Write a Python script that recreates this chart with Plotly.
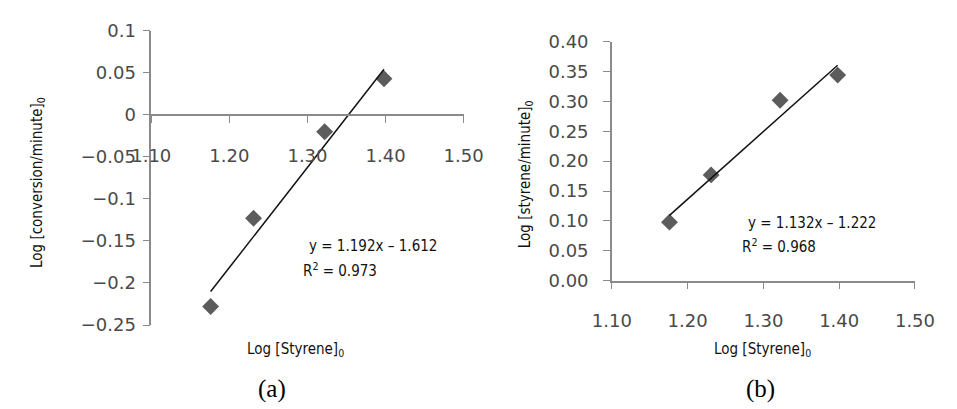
import plotly.graph_objects as go

# Figure size in pixels
W, H = 957, 409

# Shared x values: Log [Styrene]0
log_styrene = [1.176, 1.231, 1.322, 1.398]

# Panel (a): Log [conversion/minute]0
log_conversion = [-0.228, -0.123, -0.020, 0.043]
slope_a, intercept_a, r2_a = 1.192, -1.612, 0.973

# Panel (b): Log [styrene/minute]0
log_styrene_rate = [0.098, 0.177, 0.302, 0.344]
slope_b, intercept_b, r2_b = 1.132, -1.222, 0.968

x_ticks = [1.10, 1.20, 1.30, 1.40, 1.50]
y_ticks_a = [0.1, 0.05, 0, -0.05, -0.1, -0.15, -0.2, -0.25]
y_ticks_b = [0.40, 0.35, 0.30, 0.25, 0.20, 0.15, 0.10, 0.05, 0.00]

AXIS_COLOR = "#8a8a8a"
TICK_FONT = dict(family="DejaVu Sans", size=18, color="#4a4a4a")
NARROW = "DejaVu Sans Condensed, DejaVu Sans"
NARROW_SIZE = 15
MARKER_COLOR = "#5c5c5c"


def px_x(p):
    return p / W


def px_y(p):
    return 1 - p / H


def fit_line(xs, m, b):
    x0, x1 = min(xs), max(xs)
    return [x0, x1], [m * x0 + b, m * x1 + b]


fig = go.Figure()

# ---- panel (a)
fig.add_trace(go.Scatter(
    x=log_styrene, y=log_conversion, mode="markers",
    marker=dict(symbol="diamond", size=13, color=MARKER_COLOR),
    xaxis="x", yaxis="y", showlegend=False))
lx, ly = fit_line(log_styrene, slope_a, intercept_a)
fig.add_trace(go.Scatter(
    x=lx, y=ly, mode="lines", line=dict(color="#111111", width=1.5),
    xaxis="x", yaxis="y", showlegend=False))

# ---- panel (b)
fig.add_trace(go.Scatter(
    x=log_styrene, y=log_styrene_rate, mode="markers",
    marker=dict(symbol="diamond", size=13, color=MARKER_COLOR),
    xaxis="x2", yaxis="y2", showlegend=False))
lx, ly = fit_line(log_styrene, slope_b, intercept_b)
fig.add_trace(go.Scatter(
    x=lx, y=ly, mode="lines", line=dict(color="#111111", width=1.5),
    xaxis="x2", yaxis="y2", showlegend=False))

# Plot-area pixel boxes
a_left, a_right, a_top, a_bottom = 137, 463, 21, 331
b_left, b_right, b_top, b_bottom = 617.7, 934, 32.3, 284.3

ya_range = [-0.25, 0.1]
# paper position of y = 0 in panel (a), where its x axis crosses
zero_px = a_top + (ya_range[1] - 0) / (ya_range[1] - ya_range[0]) * (a_bottom - a_top)

common_axis = dict(
    showline=True, linecolor=AXIS_COLOR, linewidth=1.5,
    ticks="outside", ticklen=7, tickwidth=1.2, tickcolor=AXIS_COLOR,
    showgrid=False, zeroline=False, tickfont=TICK_FONT,
)

fig.update_layout(
    width=W, height=H,
    margin=dict(l=0, r=0, t=0, b=0),
    paper_bgcolor="white", plot_bgcolor="white",
    xaxis=dict(common_axis, domain=[px_x(a_left), px_x(a_right)],
               range=[1.10, 1.50], tickvals=x_ticks, tickformat=".2f",
               anchor="free", position=px_y(zero_px), ticklabelstandoff=18),
    yaxis=dict(common_axis, domain=[px_y(a_bottom), px_y(a_top)],
               range=ya_range, tickvals=y_ticks_a, anchor="x",
               ticklabelstandoff=3),
    xaxis2=dict(common_axis, domain=[px_x(b_left), px_x(b_right)],
                range=[1.10, 1.50], tickvals=x_ticks, tickformat=".2f",
                anchor="y2", ticklabelstandoff=16),
    yaxis2=dict(common_axis, domain=[px_y(b_bottom), px_y(b_top)],
                range=[0, 0.40], tickvals=y_ticks_b, tickformat=".2f",
                anchor="x2", ticklabelstandoff=11),
)


def label(text, x, y, size=NARROW_SIZE, family=NARROW, angle=0, xanchor="center", color="#111111"):
    fig.add_annotation(
        text=text, x=px_x(x), y=px_y(y), xref="paper", yref="paper",
        showarrow=False, textangle=angle, xanchor=xanchor, yanchor="middle",
        font=dict(family=family, size=size, color=color))


# Axis titles
label("Log [conversion/minute]<sub>0</sub>", 18, 181, angle=-90)
label("Log [Styrene]<sub>0</sub>", 287, 357)
label("Log [styrene/minute]<sub>0</sub>", 527, 172, angle=-90)
label("Log [Styrene]<sub>0</sub>", 775, 357)

# Trendline equations
label(f"y = {slope_a:.3f}x \u2013 {abs(intercept_a):.3f}", 300, 248, xanchor="left")
label(f"R<sup>2</sup> = {r2_a:.3f}", 293, 273, xanchor="left")
label(f"y = {slope_b:.3f}x \u2013 {abs(intercept_b):.3f}", 757.7, 223, xanchor="left")
label(f"R<sup>2</sup> = {r2_b:.3f}", 751, 248, xanchor="left")

# Panel labels
label("(a)", 263, 398, size=25, family="Liberation Serif, Times New Roman, serif", color="#000000")
label("(b)", 773, 398, size=25, family="Liberation Serif, Times New Roman, serif", color="#000000")

fig.write_html("out.html")
